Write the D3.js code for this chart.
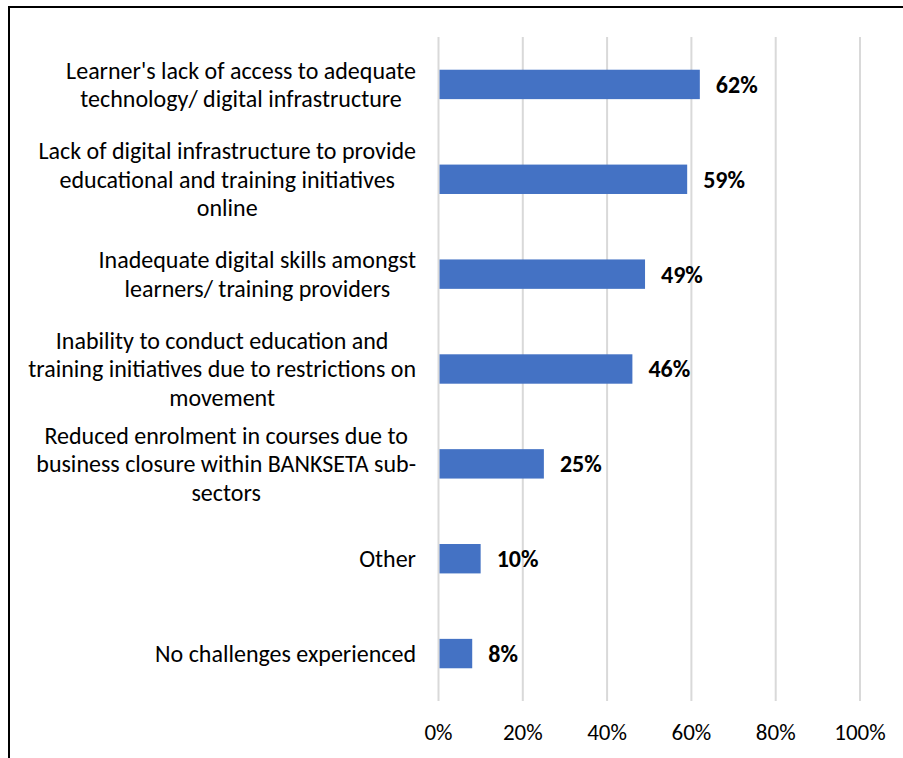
<!DOCTYPE html>
<html>
<head>
<meta charset="utf-8">
<script src="https://cdn.jsdelivr.net/npm/d3@7"></script>
<style>
  html, body { margin: 0; padding: 0; background: #fff; }
  svg { display: block; }
  text { font-family: Carlito, Calibri, Lato, sans-serif; }
</style>
</head>
<body>
<svg id="chart" width="903" height="758"></svg>
<script>
// Challenges reported, share of respondents (%)
const categories = [
  ["Learner's lack of access to adequate", "technology/ digital infrastructure"],
  ["Lack of digital infrastructure to provide", "educational and training initiatives", "online"],
  ["Inadequate digital skills amongst", "learners/ training providers"],
  ["Inability to conduct education and", "training initiatives due to restrictions on", "movement"],
  ["Reduced enrolment in courses due to", "business closure within BANKSETA sub-", "sectors"],
  ["Other"],
  ["No challenges experienced"]
];
const values = [62, 59, 49, 46, 25, 10, 8];
const ticks = [0, 20, 40, 60, 80, 100];

const svg = d3.select("#chart");

// outer chart frame
svg.append("rect")
  .attr("x", 9).attr("y", 7)
  .attr("width", 1000).attr("height", 1000)
  .attr("fill", "none").attr("stroke", "#000").attr("stroke-width", 2);

const plot = { left: 438.5, right: 860, top: 37, bottom: 701 };

const x = d3.scaleLinear().domain([0, 100]).range([plot.left, plot.right]);
const y = d3.scaleBand()
  .domain(d3.range(categories.length))
  .range([plot.top, plot.bottom])
  .paddingInner(0.69)
  .paddingOuter(0.345);

// vertical gridlines
svg.append("g").selectAll("line")
  .data(ticks)
  .join("line")
  .attr("x1", d => x(d)).attr("x2", d => x(d))
  .attr("y1", plot.top).attr("y2", plot.bottom)
  .attr("stroke", "#d9d9d9").attr("stroke-width", 2);

// bars
svg.append("g").selectAll("rect")
  .data(values)
  .join("rect")
  .attr("x", x(0) + 1)
  .attr("y", (d, i) => y(i))
  .attr("width", d => x(d) - x(0) - 1)
  .attr("height", y.bandwidth())
  .attr("fill", "#4472c4");

// value labels
svg.append("g").selectAll("text")
  .data(values)
  .join("text")
  .attr("x", d => x(d) + 16)
  .attr("y", (d, i) => y(i) + y.bandwidth() / 2)
  .attr("dy", "0.35em")
  .attr("font-size", 24)
  .attr("font-weight", "bold")
  .attr("fill", "#000")
  .text(d => d + "%");

// category labels: wrapped lines centred on each other, block right-aligned
const labelRight = 416;
const lineH = 28.5;
const catG = svg.append("g").attr("font-size", 24).attr("fill", "#000");
categories.forEach((lines, i) => {
  const cy = y(i) + y.bandwidth() / 2;
  const t = catG.append("text").attr("text-anchor", "middle");
  const spans = lines.map((ln, k) => t.append("tspan")
    .attr("y", cy + (k - (lines.length - 1) / 2) * lineH)
    .attr("dy", "0.35em")
    .text(ln));
  const maxW = d3.max(spans, s => s.node().getComputedTextLength());
  spans.forEach(s => s.attr("x", labelRight - maxW / 2));
});

// x axis tick labels
svg.append("g").selectAll("text")
  .data(ticks)
  .join("text")
  .attr("x", d => x(d))
  .attr("y", 740)
  .attr("text-anchor", "middle")
  .attr("font-size", 23)
  .attr("fill", "#000")
  .text(d => d + "%");
</script>
</body>
</html>
